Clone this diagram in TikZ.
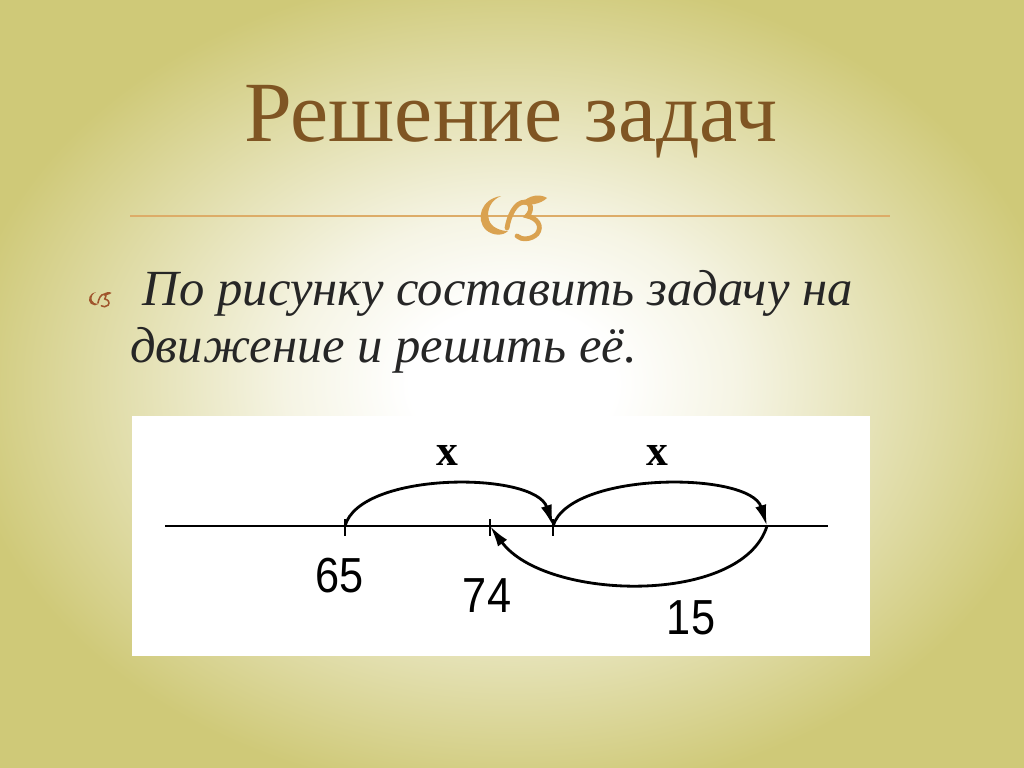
\documentclass[tikz,border=0pt]{standalone}
\usepackage{fontspec}
\setmainfont{Liberation Serif}
\newfontfamily\numfont{Liberation Sans}
\usepackage{tikz}
\usetikzlibrary{arrows.meta}

\definecolor{olivebg}{RGB}{207,201,120}
\definecolor{titlebrown}{RGB}{127,85,35}
\definecolor{bodygray}{RGB}{38,38,38}
\definecolor{orngold}{RGB}{218,162,80}
\definecolor{rulegold}{RGB}{221,172,104}
\definecolor{bulletbrown}{RGB}{160,85,45}

\pgfdeclareradialshading{slideglow}{\pgfpoint{0bp}{0bp}}{color(0bp)=(white); color(5bp)=(white); color(11bp)=(olivebg!20!white); color(19bp)=(olivebg!60!white); color(27bp)=(olivebg); color(50bp)=(olivebg)}

\tikzset{
  curlmark/.pic={
    % C part
    \fill (-12,-20) .. controls (-32,-17) and (-38,3) .. (-27,14) .. controls (-20,20) and (-10,20) .. (-5,15) .. controls (-13,15) and (-22,11) .. (-24,4) .. controls (-27,-6) and (-22,-16) .. (-12,-20) -- cycle;
    % 3 part
    \draw[line cap=round] (-6,12) .. controls (-4,0) and (2,-14) .. (12,-14) .. controls (18,-14) and (20,-6) .. (14,0) .. controls (24,2) and (30,10) .. (24,18) .. controls (18,24) and (8,24) .. (4,20);
    % leaf
    \fill (8,-12) .. controls (16,-22) and (28,-22) .. (34,-18) .. controls (28,-12) and (16,-10) .. (8,-12) -- cycle;
  }
}

\begin{document}
\begin{tikzpicture}[x=0.025cm, y=-0.025cm,
  hop/.style={line width=2pt, -{Latex[length=15pt, width=8pt]}},
  tickno/.style={font=\numfont\fontsize{35pt}{40pt}\selectfont, xscale=0.88, transform shape, inner sep=0pt},
  varx/.style={font=\bfseries\fontsize{31pt}{34pt}\selectfont, inner sep=0pt},
  task/.style={font=\itshape\fontsize{36pt}{40pt}\selectfont, text=bodygray, inner sep=0pt, anchor=base west}]

\useasboundingbox (0,0) rectangle (1024,768);
\shade[shading=slideglow] (0,0) rectangle (1024,768);

% title and rule
\path (511,142) node[anchor=base, text=titlebrown, font=\fontsize{61pt}{70pt}\selectfont, inner sep=0pt] (title) {Решение задач};
\draw[rulegold, line width=1pt] (130,216) -- (890,216);
\pic[color=orngold, line width=3.4pt] at (513,216) {curlmark};

% task text
\pic[color=bulletbrown, line width=1.1pt, scale=0.34] at (100,299) {curlmark};
\path
(130,305) node[task] (task1) {\ По рисунку составить задачу на}
(130,362) node[task] (task2) {движение и решить её.};

% picture panel
\fill[white] (132,416) rectangle (870,656);

\coordinate (lineL) at (165,526);
\coordinate (lineR) at (828,526);
\coordinate (p65) at (345,526);
\coordinate (p74) at (490,526);
\coordinate (pmid) at (553,526);
\coordinate (pend) at (767,526);

\draw[line width=2pt] (lineL) -- (lineR);
\foreach \p in {p65,p74,pmid}
   \draw[line width=1.4pt] (\p) ++(0,-7) -- ++(0,17);

\draw[hop] (p65) .. controls +(15,-55) and +(-18,-55) .. (pmid);
\draw[hop] (pmid) .. controls +(17,-55) and +(-17,-55) .. (pend);
\draw[hop] (pend) .. controls +(-25,80) and +(55,75) .. (p74);

\path
(340,576) node[tickno] (n65) {65}
(487,596) node[tickno] (n74) {74}
(691,618) node[tickno] (n15) {15}
(447,455) node[varx] (x1) {x}
(657,455) node[varx] (x2) {x};

\end{tikzpicture}
\end{document}
